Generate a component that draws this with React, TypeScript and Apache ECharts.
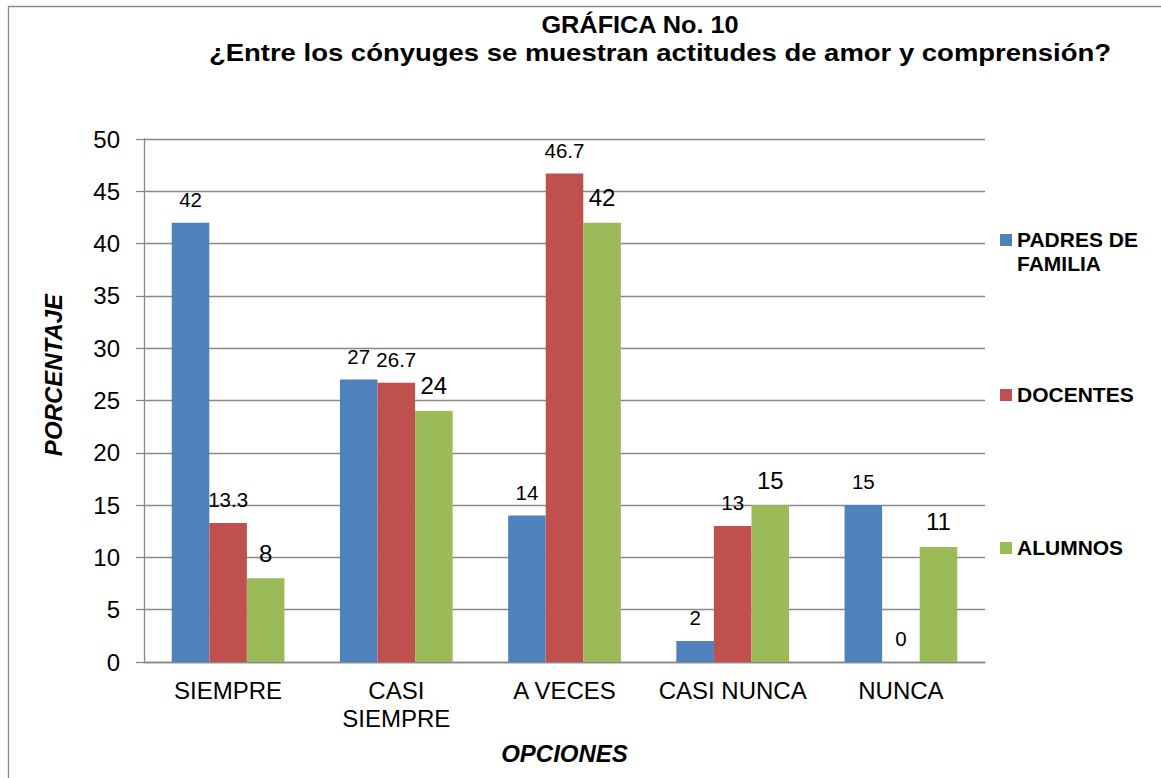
import React, { useEffect, useRef } from 'react';
import * as echarts from 'echarts';

const categories = ['SIEMPRE', 'CASI\nSIEMPRE', 'A VECES', 'CASI NUNCA', 'NUNCA'];
const seriesNames = ['PADRES DE FAMILIA', 'DOCENTES', 'ALUMNOS'];
const legendLabels = ['PADRES DE\nFAMILIA', 'DOCENTES', 'ALUMNOS'];
const padres = [42, 27, 14, 2, 15];
const docentes = [13.3, 26.7, 46.7, 13, 0];
const alumnos = [8, 24, 42, 15, 11];
const yMin = 0;
const yMax = 50;
const yInterval = 5;
const titleLine1 = 'GRÁFICA No. 10';
const titleLine2 = '¿Entre los cónyuges se muestran actitudes de amor y comprensión?';
const yName = 'PORCENTAJE';
const xName = 'OPCIONES';

const colors = ['#4F81BD', '#C0504D', '#9BBB59'];
const FONT = '"Liberation Sans", Arial, sans-serif';
const GRAY = '#898989';

export default function App() {
  const ref = useRef<HTMLDivElement>(null);
  useEffect(() => {
    if (!ref.current) return;
    const chart = echarts.init(ref.current, undefined, { renderer: 'svg' });
    const seriesData = [padres, docentes, alumnos];
    const labelSizes = [20.5, 20.5, 24];
    const legendCenters = [240, 395, 548];
    const legendGraphics: any[] = [];
    legendLabels.forEach((l, i) => {
      legendGraphics.push({
        type: 'rect',
        shape: { x: 1000, y: legendCenters[i] - 6, width: 12, height: 12 },
        style: { fill: colors[i] },
      });
      legendGraphics.push({
        type: 'text',
        x: 1017,
        y: legendCenters[i] - 12,
        scaleX: 1.05,
        style: {
          text: l,
          fontFamily: FONT,
          fontWeight: 'bold',
          fontSize: 20,
          lineHeight: 24,
          fill: '#000',
          verticalAlign: 'top',
          align: 'left',
        },
      });
    });
    const titleStyle = { fontFamily: FONT, fontWeight: 'bold', fontSize: 23, fill: '#000', align: 'center', verticalAlign: 'middle' };
    chart.setOption({
      animation: false,
      textStyle: { fontFamily: FONT },
      grid: { left: 144, right: 176, top: 139, bottom: 116, containLabel: false },
      xAxis: {
        type: 'category',
        data: categories,
        axisLine: { lineStyle: { color: GRAY, width: 1.3 } },
        axisTick: { show: false },
        axisLabel: { fontSize: 24, color: '#000', lineHeight: 28, margin: 14, fontFamily: FONT, interval: 0 },
        name: xName,
        nameLocation: 'middle',
        nameGap: 79,
        nameTextStyle: { fontSize: 24, fontWeight: 'bold', fontStyle: 'italic', color: '#000', fontFamily: FONT },
      },
      yAxis: {
        type: 'value',
        min: yMin,
        max: yMax,
        interval: yInterval,
        axisLine: { show: true, lineStyle: { color: GRAY, width: 1.3 } },
        axisTick: { show: true, length: 8, inside: false, lineStyle: { color: GRAY, width: 1.3 } },
        splitLine: { lineStyle: { color: GRAY, width: 1.3 } },
        axisLabel: { fontSize: 24, color: '#000', margin: 24, fontFamily: FONT },
      },
      series: seriesNames.map((n, i) => ({
        name: n,
        type: 'bar',
        data: seriesData[i],
        barGap: '0%',
        barCategoryGap: '33%',
        itemStyle: { color: colors[i] },
        label: {
          show: true,
          position: 'top',
          distance: 13,
          fontSize: labelSizes[i],
          color: '#000',
          fontFamily: FONT,
        },
      })),
      graphic: [
        {
          type: 'rect',
          z: -10,
          shape: { x: 8.5, y: 6.5, width: 1300, height: 900 },
          style: { fill: 'none', stroke: GRAY, lineWidth: 1.3 },
        },
        {
          type: 'text',
          x: 640,
          y: 25,
          scaleX: 1.1,
          style: { ...titleStyle, text: titleLine1 },
        },
        {
          type: 'text',
          x: 660,
          y: 53,
          scaleX: 1.195,
          style: { ...titleStyle, text: titleLine2 },
        },
        {
          type: 'text',
          x: 53,
          y: 375,
          rotation: Math.PI / 2,
          style: {
            text: yName,
            fontFamily: FONT,
            fontWeight: 'bold',
            fontStyle: 'italic',
            fontSize: 24,
            fill: '#000',
            align: 'center',
            verticalAlign: 'middle',
          },
        },
        ...legendGraphics,
      ],
    });
    return () => chart.dispose();
  }, []);
  return (
    <div
      ref={ref}
      style={{ position: 'absolute', left: 0, top: 0, width: 1161, height: 778, background: '#fff' }}
    />
  );
}
